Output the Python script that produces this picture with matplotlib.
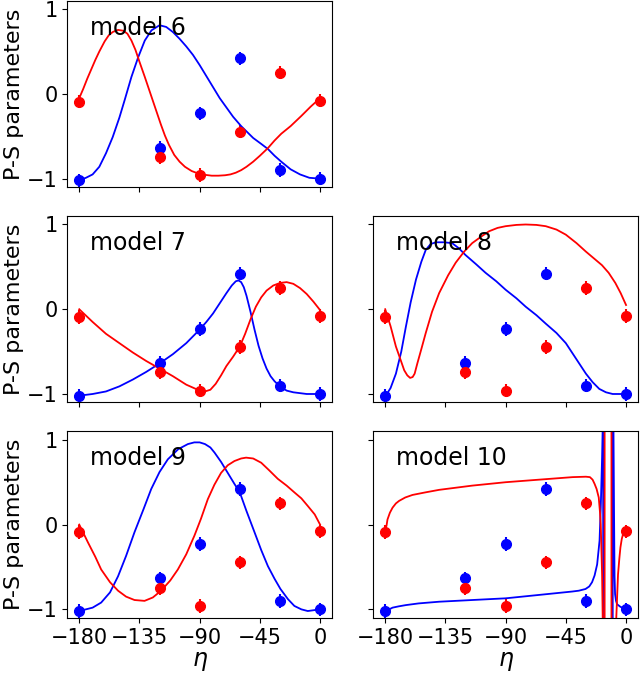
import numpy as np
import matplotlib
matplotlib.use("Agg")
import matplotlib.pyplot as plt

# measured points (same for every panel)
eta_pts = [-180, -120, -90, -60, -30, 0]
blue_pts = [-1.02, -0.635, -0.23, 0.42, -0.90, -1.0]
red_pts = [-0.09, -0.745, -0.96, -0.445, 0.25, -0.08]
blue_err = [0.08, 0.08, 0.08, 0.08, 0.08, 0.08]
red_err = [0.08, 0.08, 0.08, 0.08, 0.08, 0.08]

# model curves
m6_eta_b = [-180, -175, -170, -165, -160, -155, -150, -146, -141, -136, -131, -126, -120, -115, -110,
            -105, -100, -95, -90, -85, -80, -75, -70, -65, -59, -50, -44, -39, -34, -29, -22, -15, -8, 0]
m6_blue = [-1.02, -0.99, -0.95, -0.86, -0.70, -0.51, -0.28, -0.07, 0.20, 0.43, 0.63, 0.75, 0.81, 0.79, 0.73,
           0.65, 0.56, 0.46, 0.34, 0.21, 0.08, -0.05, -0.16, -0.27, -0.38, -0.52, -0.59, -0.65, -0.73, -0.80,
           -0.89, -0.95, -0.99, -1.0]
m6_eta_r = [-180, -177, -174, -171, -168, -165, -161, -158, -155, -151, -147, -144, -141, -138, -135, -131,
            -128, -125, -122, -119, -116, -113, -109, -105, -101, -96, -91, -86, -81, -76, -71, -67, -63, -59,
            -55, -50, -45, -39, -34, -29, -22, -14, -7, 0]
m6_red = [-0.05, 0.06, 0.18, 0.29, 0.40, 0.50, 0.62, 0.69, 0.73, 0.755, 0.745, 0.71, 0.63, 0.52, 0.38, 0.20,
          0.06, -0.08, -0.22, -0.36, -0.49, -0.60, -0.72, -0.80, -0.86, -0.91, -0.94, -0.955, -0.965, -0.965, -0.96,
          -0.95, -0.93, -0.90, -0.86, -0.80, -0.73, -0.64, -0.55, -0.47, -0.38, -0.26, -0.15, -0.05]

m7_eta_b = [-180, -170, -160, -150, -140, -130, -120, -110, -100, -90, -85, -80, -75, -70, -66, -63, -61,
            -59, -57, -55, -52, -49, -46, -43, -40, -37, -34, -30, -25, -20, -10, 0]
m7_blue = [-1.02, -1.0, -0.97, -0.91, -0.83, -0.74, -0.64, -0.53, -0.40, -0.24, -0.15, -0.05, 0.07, 0.19, 0.28, 0.33, 0.34,
           0.32, 0.26, 0.16, -0.03, -0.24, -0.43, -0.58, -0.70, -0.79, -0.85, -0.91, -0.96, -0.98, -1.0, -1.0]
m7_eta_r = [-180, -170, -160, -150, -140, -130, -120, -110, -100, -90, -86, -82, -78, -74, -70, -65,
            -60, -56, -52, -48, -44, -40, -35, -30, -25, -20, -15, -10, -5, 0]
m7_red = [0.0, -0.15, -0.29, -0.40, -0.51, -0.61, -0.70, -0.79, -0.89, -0.96, -0.97, -0.95, -0.88, -0.78, -0.67, -0.56,
          -0.44, -0.29, -0.12, 0.03, 0.14, 0.22, 0.28, 0.31, 0.32, 0.30, 0.25, 0.18, 0.09, -0.01]

m8_eta_b = [-180, -176, -172, -168, -164.6, -161, -157, -153, -149.7, -146, -142, -136, -130, -125, -120,
            -112, -105, -97, -90, -82, -75, -67, -60, -52, -45, -40, -35, -30, -25, -20, -15, -10, -5, 0]
m8_blue = [-1.03, -0.93, -0.76, -0.50, -0.21, 0.08, 0.35, 0.56, 0.70, 0.77, 0.79, 0.79, 0.78, 0.72, 0.64,
           0.53, 0.43, 0.33, 0.23, 0.13, 0.03, -0.07, -0.17, -0.28, -0.40, -0.52, -0.64, -0.76, -0.86, -0.94, -0.98, -1.0, -1.0, -1.0]
m8_eta_r = [-180, -176, -172, -168, -165.8, -163.5, -161.4, -159.5, -158, -156, -153, -149.7, -145, -139.7, -133, -127.3,
            -121, -115, -108, -102.4, -96, -90, -82, -75, -67, -60, -52, -45, -37, -30, -24, -18, -13, -8, -4, 0]
m8_red = [0.0, -0.2, -0.44, -0.62, -0.72, -0.78, -0.81, -0.80, -0.76, -0.64, -0.47, -0.28, -0.03, 0.19, 0.40, 0.55,
          0.68, 0.78, 0.86, 0.92, 0.96, 0.98, 0.995, 1.0, 0.995, 0.98, 0.94, 0.88, 0.78, 0.68, 0.60, 0.52, 0.43, 0.31, 0.19, 0.05]

m9_eta_b = [-180, -170, -163.6, -157, -151, -145, -138.7, -132, -126.2, -120, -113.8, -106, -98.8, -94, -90,
            -86, -82, -78.9, -74, -69, -64, -60, -55, -49, -44, -39, -34, -29.6, -24, -19.2, -14, -9.2, 0]
m9_blue = [-1.02, -0.98, -0.92, -0.80, -0.61, -0.37, -0.09, 0.18, 0.42, 0.62, 0.77, 0.89, 0.95, 0.97, 0.97,
           0.95, 0.91, 0.85, 0.74, 0.61, 0.48, 0.38, 0.16, -0.09, -0.30, -0.49, -0.64, -0.76, -0.88, -0.96, -1.0, -1.02, -1.0]
m9_eta_r = [-180, -173.5, -168, -163.6, -157, -151, -145, -138.7, -131.2, -125, -118.8, -112, -106.3, -100,
            -93.9, -89, -83.9, -79, -74, -69, -64, -59, -55.3, -50, -44, -38, -31.6, -25, -19.2, -14, -9.2, -4, 0]
m9_red = [0.0, -0.21, -0.38, -0.53, -0.68, -0.78, -0.85, -0.89, -0.90, -0.86, -0.78, -0.66, -0.53, -0.35,
          -0.13, 0.07, 0.30, 0.47, 0.61, 0.70, 0.75, 0.78, 0.79, 0.78, 0.73, 0.64, 0.54, 0.46, 0.38, 0.31, 0.22, 0.12, 0.0]

# model 10 has two poles near eta = -17 and -10
m10_eta_b = [-180, -177, -174.5, -170, -164.6, -155, -139.7, -114.9, -90, -65.1, -40.3, -35.3, -30.3, -27.5, -25.4,
             -23.5, -21.6, -19.8, -18.9, -17.9, -17.4, -17.1, -17.1, -10.0, -9.9, -9.4, -9.0, -8.6, -8.2, -7.5,
             -6.7, -4.2, 0]
m10_blue = [-1.02, -1.0, -0.98, -0.965, -0.95, -0.93, -0.91, -0.89, -0.87, -0.83, -0.79, -0.78, -0.76, -0.73, -0.68,
            -0.60, -0.47, -0.19, 0.20, 0.79, 1.18, 30, -30, -30, 30, 1.15, 0.2, -0.6, -0.82, -0.90,
            -0.94, -0.97, -1.0]
m10_eta_r = [-180, -179, -178.3, -176.5, -174.5, -172, -169.6, -165, -159.6, -150, -139.7, -114.9, -90, -65.1, -40,
             -30, -27, -25, -23.5, -22, -20.4, -19.5, -18.9, -17.9, -17.4, -16.0, -16.0, -10.9, -10.9, -7.5,
             -6.0, -5.0, -4.2, -3.2, -2.2, -1, 0]
m10_red = [-0.07, -0.01, 0.06, 0.14, 0.20, 0.25, 0.28, 0.32, 0.35, 0.38, 0.41, 0.46, 0.50, 0.53, 0.56,
           0.565, 0.56, 0.53, 0.48, 0.42, 0.32, 0.15, 0.0, -0.59, -1.15, -30, 30, 30, -30, -1.18,
           -0.59, -0.40, -0.27, -0.17, -0.11, -0.06, -0.03]

models = {
    (0, 0): ("model 6", m6_eta_b, m6_blue, m6_eta_r, m6_red),
    (1, 0): ("model 7", m7_eta_b, m7_blue, m7_eta_r, m7_red),
    (1, 1): ("model 8", m8_eta_b, m8_blue, m8_eta_r, m8_red),
    (2, 0): ("model 9", m9_eta_b, m9_blue, m9_eta_r, m9_red),
    (2, 1): ("model 10", m10_eta_b, m10_blue, m10_eta_r, m10_red),
}

fig, axes = plt.subplots(3, 2, sharex=True, sharey=True, figsize=(6.4, 6.73), dpi=100)
fig.subplots_adjust(left=0.105, right=0.997, bottom=0.082, top=0.999, wspace=0.155, hspace=0.155)

axes[0, 1].set_visible(False)

for (r, c), (name, eb, yb, er, yr) in models.items():
    ax = axes[r, c]
    ax.errorbar(eta_pts, blue_pts, yerr=blue_err, fmt='o', color='blue', ms=7, elinewidth=1.5)
    ax.errorbar(eta_pts, red_pts, yerr=red_err, fmt='o', color='red', ms=7, elinewidth=1.5)
    ax.plot(eb, yb, color='blue', lw=1.3)
    ax.plot(er, yr, color='red', lw=1.3)
    ax.text(-172, 0.7, name, fontsize=17)
    ax.tick_params(labelsize=15)
    if c == 0:
        ax.set_ylabel("P-S parameters", fontsize=16, labelpad=2)
    if r == 2:
        ax.set_xlabel(r"$\eta$", fontsize=17, labelpad=1)

axes[2, 0].set_xlim(-189, 9)
axes[2, 0].set_ylim(-1.1, 1.1)
axes[2, 0].set_xticks([-180, -135, -90, -45, 0])
axes[2, 0].set_yticks([-1, 0, 1])
axes[1, 1].xaxis.set_tick_params(labelbottom=False)

plt.savefig("out.png", dpi=100)
